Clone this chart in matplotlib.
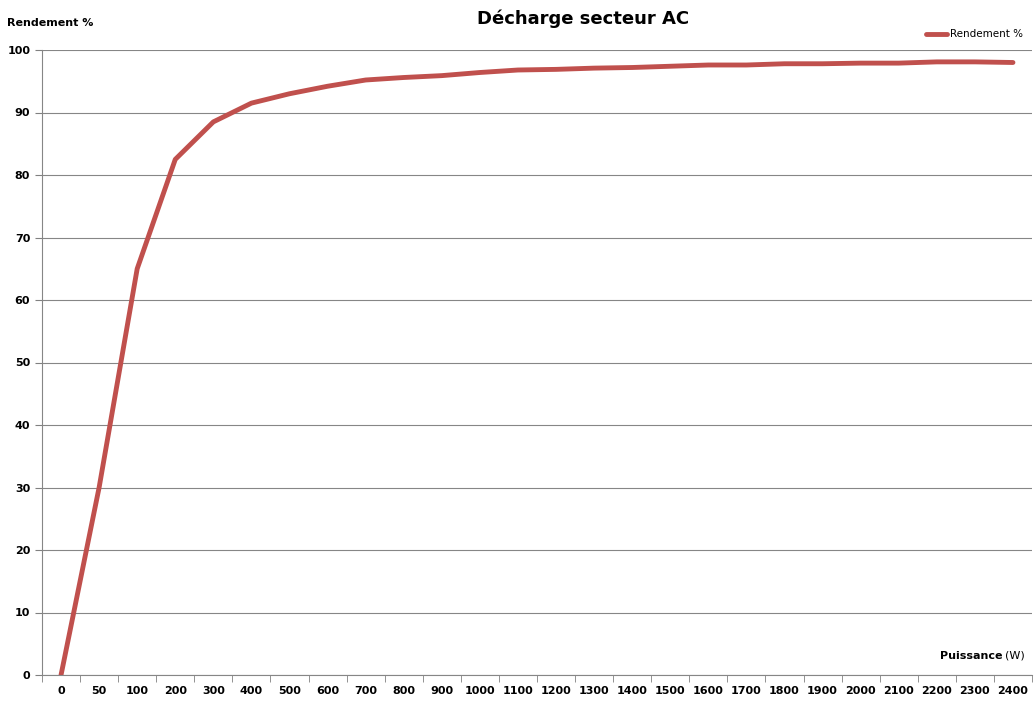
import matplotlib
matplotlib.use("Agg")
import matplotlib.pyplot as plt
import numpy as np

# data
puissance = ["0", "50"] + [str(v) for v in range(100, 2500, 100)]
rendement = [0, 30, 65, 82.5, 88.5, 91.5, 93, 94.2, 95.2, 95.6, 95.9, 96.4, 96.8,
             96.9, 97.1, 97.2, 97.4, 97.6, 97.6, 97.8, 97.8, 97.9, 97.9, 98.1, 98.1, 98.0]

fig = plt.figure(figsize=(10.35, 7.17), dpi=100)
ax = fig.add_axes([42 / 1035, 1 - 675 / 717, 990 / 1035, 625 / 717])

x = np.arange(len(puissance))
ax.plot(x, rendement, color="#c0504d", lw=3.5, label="Rendement %", solid_capstyle="round")

ax.set_xlim(-0.5, len(puissance) - 0.5)
ax.set_ylim(0, 100)
ax.set_yticks(range(0, 101, 10))
ax.set_xticks(x)
ax.set_xticklabels(puissance, fontsize=8, fontweight="bold")
ax.set_xticks(np.arange(-0.5, len(puissance)), minor=True)
ax.tick_params(axis="x", which="major", length=0, pad=8)
ax.tick_params(axis="x", which="minor", length=5, direction="out", color="#808080")
ax.tick_params(axis="y", labelsize=8, length=5, direction="out", color="#808080")
for lbl in ax.get_yticklabels():
    lbl.set_fontweight("bold")
ax.grid(axis="y", color="#868686", lw=0.8)
ax.set_axisbelow(True)
for s in ("top", "right"):
    ax.spines[s].set_visible(False)
ax.spines["left"].set_color("#868686")
ax.spines["bottom"].set_color("#868686")

fig.text(7 / 1035, 1 - 23 / 717, "Rendement %", fontsize=8, fontweight="bold", va="center")
fig.text(583 / 1035, 1 - 19 / 717, "Décharge secteur AC", fontsize=13, fontweight="bold",
         ha="center", va="center")
fig.text(940 / 1035, 1 - 656 / 717, "Puissance", fontsize=8, fontweight="bold", va="center")
fig.text(1005 / 1035, 1 - 656 / 717, "(W)", fontsize=8, va="center")

ax.legend(loc="upper right", bbox_to_anchor=(1032 / 1035, 1 - 20 / 717),
          bbox_transform=fig.transFigure, frameon=False, fontsize=7.5,
          handlelength=2, handletextpad=0.3)

fig.savefig("out.png", dpi=100, facecolor="white")
